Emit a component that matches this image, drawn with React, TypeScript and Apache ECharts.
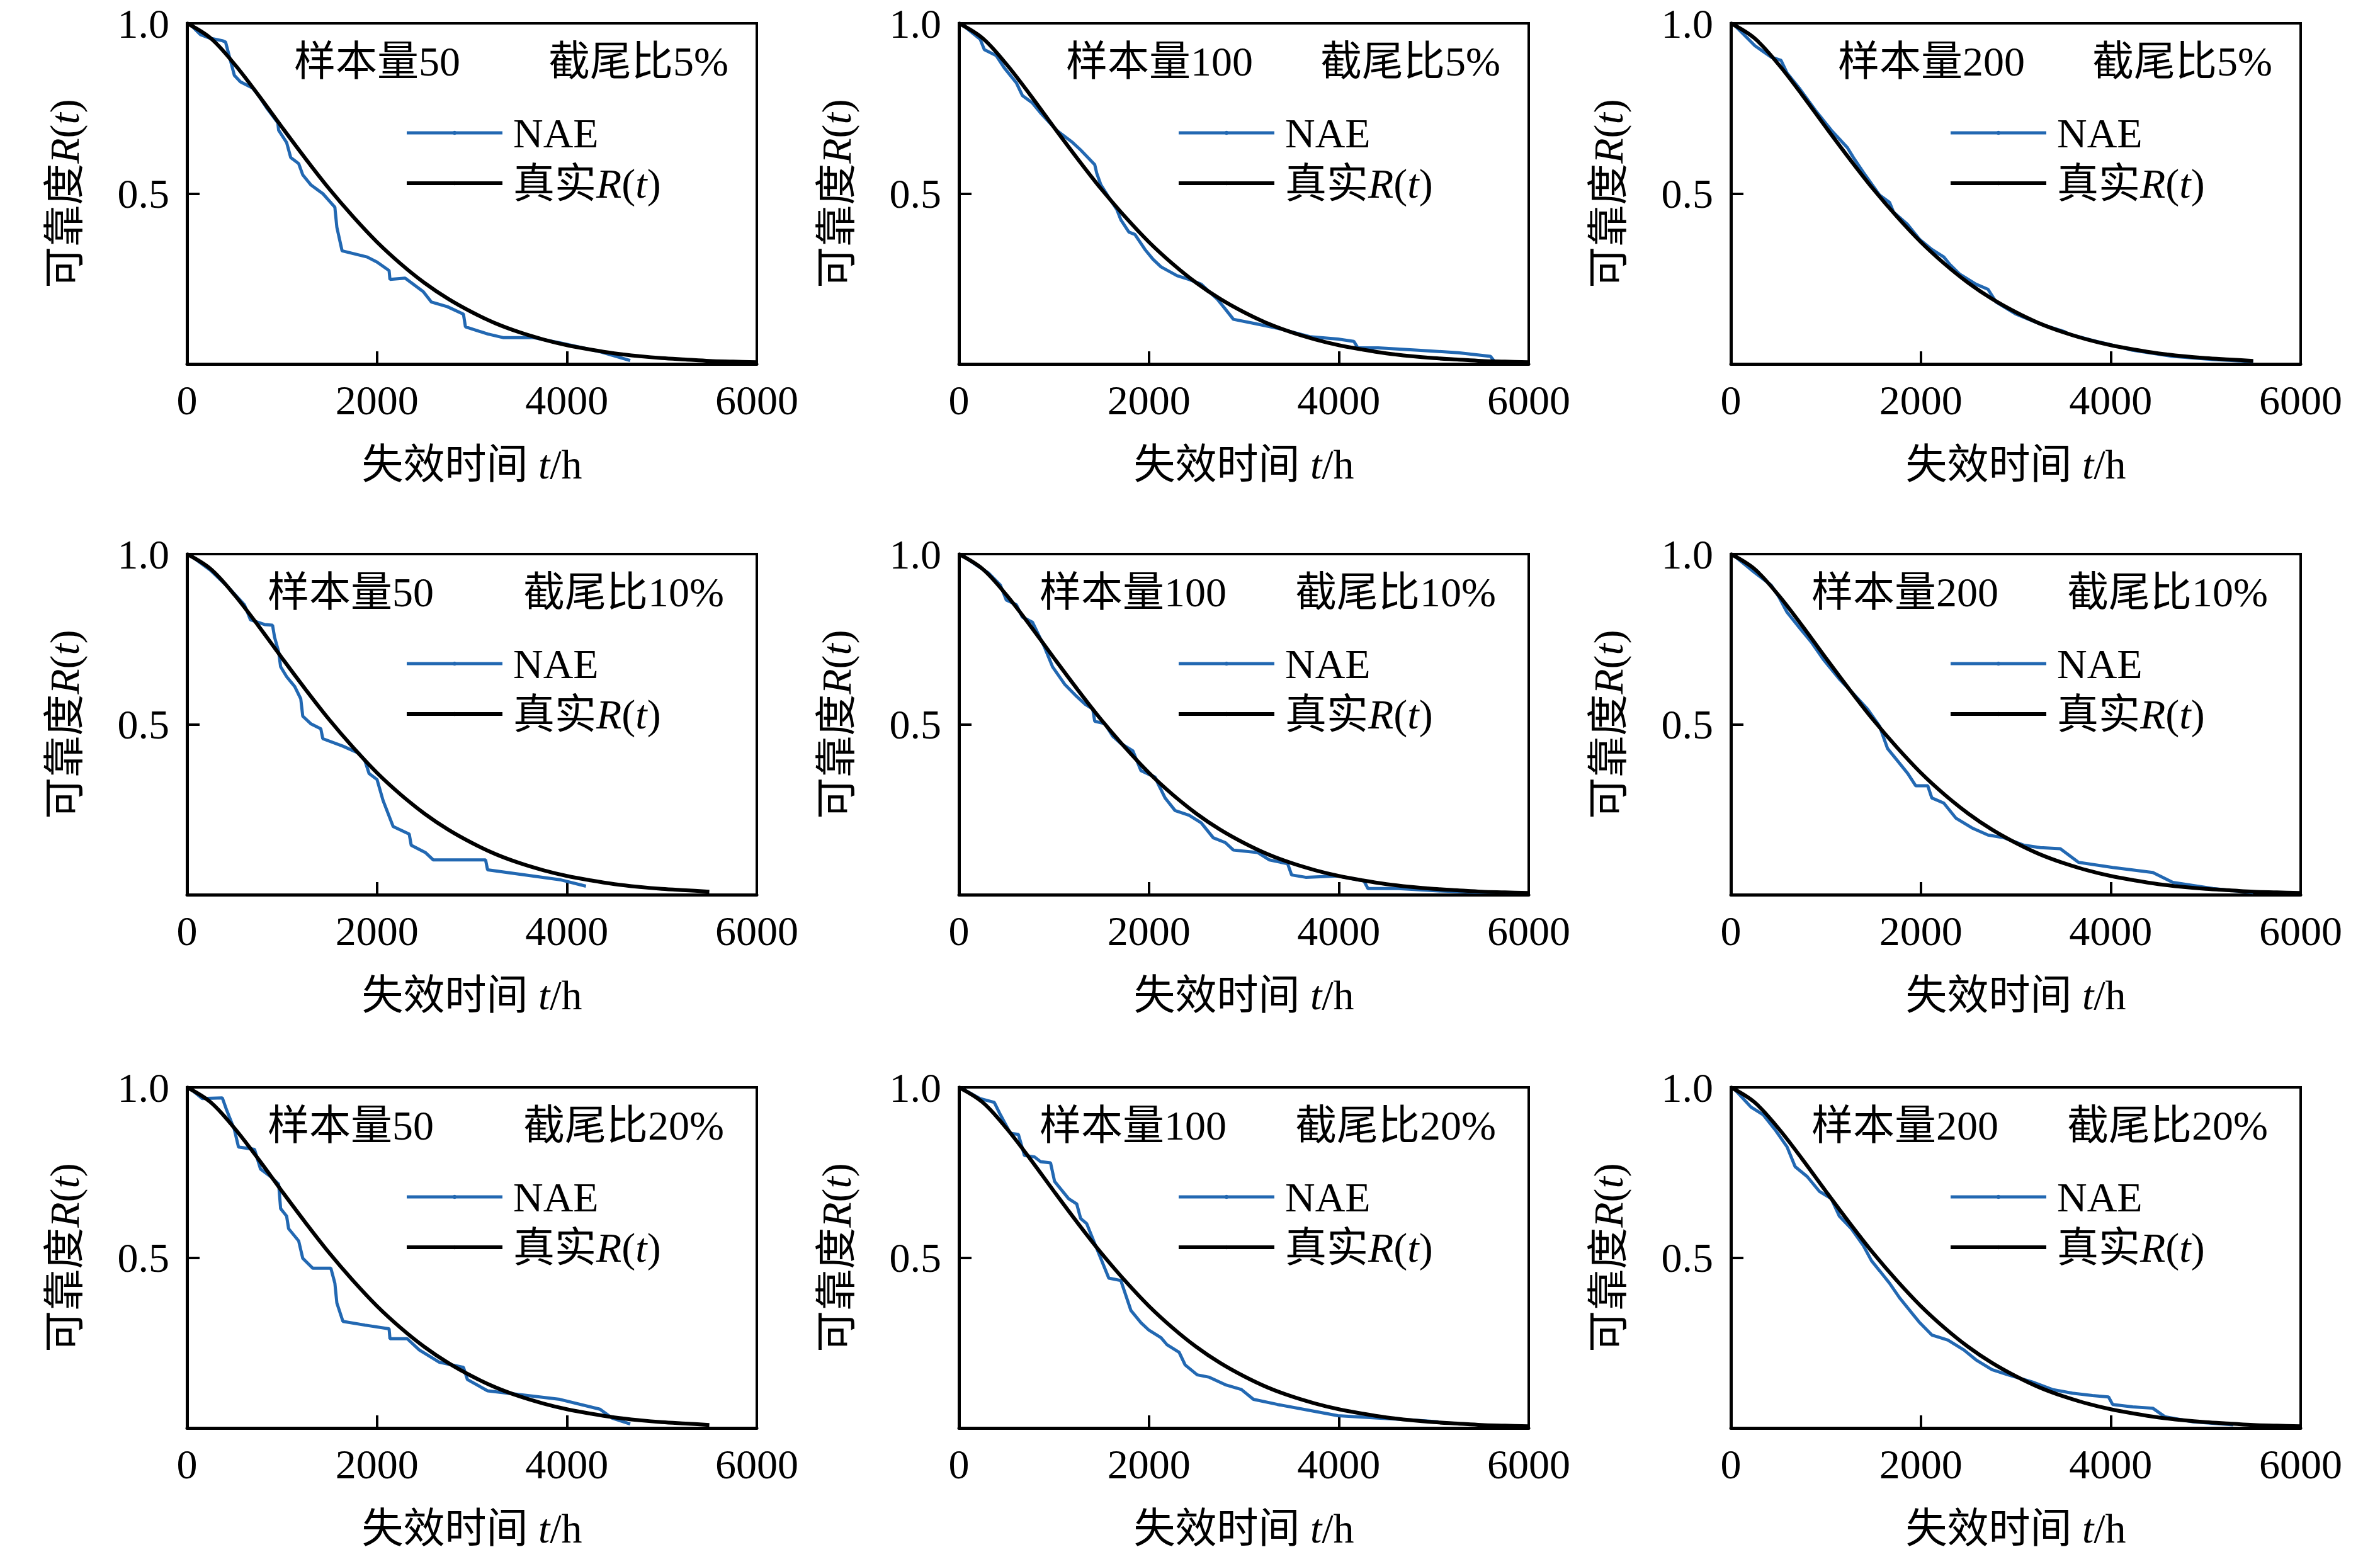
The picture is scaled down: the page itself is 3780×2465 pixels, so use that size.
import React, { useEffect, useRef } from 'react';
import * as echarts from 'echarts';

const W = 3780;
const H = 2465;
const FONT = '"Liberation Serif", "Times New Roman", "Noto Sans CJK SC", serif';

// ---- data ----
const sampleSizes = [50, 100, 200];
const censorRatios = ['5%', '10%', '20%'];
const xTicks = [0, 2000, 4000, 6000];
const yTicks = [0.5, 1.0];

// true reliability curve (t, R)
const trueR: [number, number][] = [
  [0, 1.0], [250, 0.956], [500, 0.88], [750, 0.79], [1000, 0.695], [1250, 0.602],
  [1500, 0.513], [1750, 0.432], [2000, 0.358], [2250, 0.294], [2500, 0.238],
  [2750, 0.191], [3000, 0.152], [3250, 0.119], [3500, 0.093], [3750, 0.072],
  [4000, 0.055], [4250, 0.042], [4500, 0.031], [4750, 0.023], [5000, 0.017],
  [5250, 0.013], [5500, 0.009], [5750, 0.007], [6000, 0.005],
];
const trueEnd = [6000, 6000, 5500, 5500, 6000, 6000, 5500, 6000, 6000];

// NAE estimates (row: censoring ratio, column: sample size)
const naeN50C5: [number, number][] = [
  [40, 0.995], [140, 0.967], [245, 0.956], [372, 0.949], [406, 0.945], [457, 0.891], [499, 0.847],
  [563, 0.828], [690, 0.81], [753, 0.788], [838, 0.752], [956, 0.708], [965, 0.686], [1049, 0.65],
  [1092, 0.606], [1176, 0.588], [1219, 0.555], [1303, 0.526], [1430, 0.5], [1557, 0.46], [1578, 0.401],
  [1633, 0.332], [1896, 0.314], [2001, 0.299], [2128, 0.274], [2137, 0.248], [2297, 0.252], [2488, 0.212],
  [2572, 0.182], [2742, 0.168], [2911, 0.146], [2932, 0.109], [3165, 0.088], [3334, 0.077], [3651, 0.077],
  [3926, 0.062], [4349, 0.036], [4667, 0.01],
];
const naeN100C5: [number, number][] = [
  [40, 0.995], [224, 0.953], [267, 0.923], [393, 0.905], [478, 0.869], [605, 0.825], [668, 0.788],
  [774, 0.766], [859, 0.737], [1028, 0.686], [1197, 0.65], [1282, 0.628], [1430, 0.585], [1451, 0.56],
  [1494, 0.526], [1578, 0.489], [1663, 0.453], [1705, 0.423], [1790, 0.387], [1853, 0.38], [1959, 0.336],
  [2044, 0.307], [2128, 0.285], [2297, 0.259], [2424, 0.248], [2551, 0.234], [2636, 0.212], [2721, 0.19],
  [2805, 0.161], [2890, 0.131], [3144, 0.117], [3397, 0.102], [3694, 0.08], [3990, 0.073], [4159, 0.066],
  [4201, 0.047], [4413, 0.047], [4836, 0.04], [5259, 0.033], [5598, 0.022], [5640, 0.007], [5936, 0.006],
];
const naeN200C5: [number, number][] = [
  [40, 0.994], [254, 0.934], [423, 0.901], [529, 0.891], [592, 0.854], [719, 0.81], [889, 0.745],
  [1058, 0.686], [1227, 0.635], [1290, 0.606], [1396, 0.562], [1565, 0.496], [1671, 0.474], [1714, 0.445],
  [1862, 0.409], [1989, 0.365], [2116, 0.336], [2242, 0.314], [2306, 0.292], [2412, 0.263], [2581, 0.234],
  [2708, 0.219], [2792, 0.182], [3004, 0.146], [3258, 0.117], [3512, 0.095], [3554, 0.088], [3808, 0.069],
  [3977, 0.058], [4231, 0.04], [4654, 0.022], [5077, 0.013], [5500, 0.007],
];
const naeN50C10: [number, number][] = [
  [40, 0.995], [245, 0.953], [436, 0.902], [605, 0.851], [647, 0.822], [668, 0.807], [817, 0.793],
  [901, 0.791], [922, 0.756], [965, 0.713], [986, 0.669], [1049, 0.64], [1134, 0.611], [1198, 0.575],
  [1219, 0.524], [1303, 0.502], [1409, 0.487], [1430, 0.458], [1642, 0.436], [1811, 0.415], [1874, 0.393],
  [1917, 0.356], [2001, 0.338], [2065, 0.276], [2171, 0.2], [2340, 0.178], [2361, 0.145], [2509, 0.124],
  [2594, 0.102], [3144, 0.102], [3165, 0.073], [3926, 0.044], [4201, 0.025],
];
const naeN100C10: [number, number][] = [
  [40, 0.995], [203, 0.964], [309, 0.945], [436, 0.909], [499, 0.865], [605, 0.851], [668, 0.815],
  [774, 0.8], [901, 0.727], [986, 0.669], [1113, 0.618], [1240, 0.582], [1325, 0.56], [1409, 0.545],
  [1430, 0.509], [1536, 0.502], [1620, 0.465], [1705, 0.444], [1832, 0.422], [1917, 0.364], [2065, 0.345],
  [2107, 0.32], [2171, 0.284], [2276, 0.247], [2424, 0.233], [2551, 0.211], [2678, 0.167], [2805, 0.153],
  [2890, 0.131], [3144, 0.124], [3270, 0.102], [3461, 0.091], [3503, 0.058], [3651, 0.051], [3990, 0.055],
  [4265, 0.04], [4307, 0.018], [4625, 0.018], [5048, 0.011], [5471, 0.007], [5936, 0.006],
];
const naeN200C10: [number, number][] = [
  [40, 0.994], [254, 0.945], [423, 0.909], [508, 0.873], [592, 0.829], [719, 0.785], [846, 0.742],
  [973, 0.691], [1142, 0.633], [1269, 0.596], [1439, 0.545], [1565, 0.495], [1650, 0.429], [1735, 0.4],
  [1862, 0.356], [1946, 0.32], [2073, 0.32], [2116, 0.284], [2242, 0.269], [2369, 0.225], [2539, 0.196],
  [2708, 0.175], [2877, 0.167], [3089, 0.145], [3258, 0.138], [3469, 0.135], [3660, 0.095], [4020, 0.08],
  [4443, 0.065], [4654, 0.036], [5077, 0.018], [5500, 0.006],
];
const naeN50C20: [number, number][] = [
  [40, 0.995], [161, 0.967], [372, 0.969], [415, 0.935], [499, 0.876], [542, 0.825], [711, 0.818],
  [774, 0.76], [880, 0.738], [965, 0.716], [986, 0.644], [1049, 0.622], [1070, 0.585], [1176, 0.549],
  [1219, 0.498], [1324, 0.469], [1515, 0.469], [1557, 0.425], [1578, 0.367], [1642, 0.313], [1874, 0.302],
  [2128, 0.291], [2137, 0.262], [2319, 0.262], [2446, 0.229], [2657, 0.193], [2911, 0.178], [2953, 0.142],
  [3165, 0.109], [3503, 0.098], [3926, 0.084], [4349, 0.055], [4476, 0.029], [4667, 0.012],
];
const naeN100C20: [number, number][] = [
  [40, 0.995], [224, 0.967], [372, 0.956], [436, 0.92], [542, 0.865], [626, 0.862], [690, 0.8],
  [795, 0.796], [859, 0.782], [965, 0.778], [1007, 0.724], [1155, 0.673], [1240, 0.658], [1282, 0.615],
  [1345, 0.6], [1451, 0.527], [1578, 0.44], [1705, 0.433], [1811, 0.345], [1917, 0.309], [2001, 0.287],
  [2128, 0.265], [2192, 0.244], [2319, 0.222], [2382, 0.185], [2509, 0.156], [2636, 0.149], [2805, 0.127],
  [2974, 0.113], [3101, 0.084], [3355, 0.069], [3778, 0.047], [3990, 0.036], [4413, 0.029], [4836, 0.022],
  [5048, 0.018],
];
const naeN200C20: [number, number][] = [
  [40, 0.994], [212, 0.942], [339, 0.92], [465, 0.876], [592, 0.825], [677, 0.767], [804, 0.738],
  [931, 0.695], [1058, 0.673], [1142, 0.622], [1269, 0.585], [1396, 0.535], [1481, 0.491], [1565, 0.462],
  [1671, 0.425], [1777, 0.382], [1904, 0.338], [1989, 0.309], [2116, 0.273], [2285, 0.258], [2454, 0.229],
  [2581, 0.2], [2750, 0.171], [2919, 0.156], [3173, 0.135], [3385, 0.113], [3596, 0.102], [3808, 0.095],
  [3977, 0.091], [4020, 0.069], [4231, 0.062], [4443, 0.058], [4570, 0.033], [4866, 0.018], [5289, 0.009],
];

const naeSeries = [
  naeN50C5, naeN100C5, naeN200C5,
  naeN50C10, naeN100C10, naeN200C10,
  naeN50C20, naeN100C20, naeN200C20,
];

// ---- layout ----
const colLeft = [297, 1523, 2749];
const rowTop = [37, 880, 1727];
const plotW = 905;
const plotH = 541;
const NAE_COLOR = '#2268b2';
const NAE_W = 5;
const TRUE_W = 6;

const richBase = { fontFamily: FONT, fontSize: 66, color: '#000', lineHeight: 70 };
const rich = {
  c: { ...richBase },
  i: { ...richBase, fontStyle: 'italic' as const },
  a: { ...richBase, padding: [0, 0, 0, 12] },
};

function buildOption() {
  const grid: any[] = [];
  const xAxis: any[] = [];
  const yAxis: any[] = [];
  const series: any[] = [];
  const legend: any[] = [];
  const graphic: any[] = [];

  for (let r = 0; r < 3; r++) {
    for (let c = 0; c < 3; c++) {
      const i = r * 3 + c;
      const left = colLeft[c];
      const top = rowTop[r];
      grid.push({
        left, top, width: plotW, height: plotH,
        show: true, borderColor: '#000', borderWidth: 4, backgroundColor: '#fff',
      });
      xAxis.push({
        type: 'value', gridIndex: i, min: xTicks[0], max: xTicks[xTicks.length - 1],
        interval: xTicks[1] - xTicks[0],
        axisLine: { show: true, onZero: false, lineStyle: { color: '#000', width: 5 } },
        axisTick: { show: true, inside: true, length: 20, lineStyle: { color: '#000', width: 4 } },
        splitLine: { show: false },
        axisLabel: {
          fontFamily: FONT, fontSize: 66, color: '#000', margin: 24,
          formatter: (v: number) => String(Math.round(v)),
        },
        name: '{c|失效时间 }{i|t}{c|/h}',
        nameLocation: 'middle', nameGap: 124,
        nameTextStyle: { rich },
      });
      yAxis.push({
        type: 'value', gridIndex: i, min: 0, max: yTicks[1], interval: yTicks[0],
        axisLine: { show: true, onZero: false, lineStyle: { color: '#000', width: 5 } },
        axisTick: { show: true, inside: true, length: 20, lineStyle: { color: '#000', width: 4 } },
        splitLine: { show: false },
        axisLabel: {
          fontFamily: FONT, fontSize: 66, color: '#000', margin: 28, lineHeight: 50,
          formatter: (v: number) => (v === 0 ? '' : v.toFixed(1)),
        },
        name: '{c|可靠度}{i|R}{c|(}{i|t}{c|)}',
        nameLocation: 'middle', nameRotate: 90, nameGap: 160,
        nameTextStyle: { rich },
      });
      series.push({
        type: 'line', name: 'NAE', xAxisIndex: i, yAxisIndex: i,
        data: naeSeries[i], showSymbol: false, symbol: 'circle', symbolSize: 6,
        lineStyle: { color: NAE_COLOR, width: NAE_W }, itemStyle: { color: NAE_COLOR },
        z: 2,
      });
      series.push({
        type: 'line', name: '真实R(t)', xAxisIndex: i, yAxisIndex: i,
        data: trueR.filter((p) => p[0] <= trueEnd[i]),
        showSymbol: false, symbol: 'circle', symbolSize: 4, smooth: 0.35,
        lineStyle: { color: '#000', width: TRUE_W }, itemStyle: { color: '#000' },
        z: 3,
      });
      legend.push({
        orient: 'vertical', left: left + 341, top: top + 136,
        itemWidth: 152, itemHeight: 8, itemGap: 14,
        data: [
          { name: 'NAE', lineStyle: { color: NAE_COLOR, width: NAE_W }, itemStyle: { color: NAE_COLOR } },
          { name: '真实R(t)', lineStyle: { color: '#000', width: TRUE_W }, itemStyle: { color: '#000' } },
        ],
        selectedMode: false,
        textStyle: { fontFamily: FONT, fontSize: 66, color: '#000', rich },
        formatter: (name: string) =>
          name === 'NAE' ? '{a|NAE}' : '{a|真实}{i|R}{c|(}{i|t}{c|)}',
      });
      const firstX = r === 0 ? 170 : 128;
      const secondX = r === 0 ? 574 : 534;
      graphic.push({
        type: 'text', x: left + firstX, y: top + 60, z: 10,
        style: {
          text: '样本量' + sampleSizes[c], fontFamily: FONT, fontSize: 66,
          fill: '#000', verticalAlign: 'middle', align: 'left',
        },
      });
      graphic.push({
        type: 'text', x: left + secondX, y: top + 60, z: 10,
        style: {
          text: '截尾比' + censorRatios[r], fontFamily: FONT, fontSize: 66,
          fill: '#000', verticalAlign: 'middle', align: 'left',
        },
      });
    }
  }

  return {
    animation: false,
    backgroundColor: '#fff',
    grid, xAxis, yAxis, series, legend, graphic,
  };
}

export default function App() {
  const ref = useRef<HTMLDivElement>(null);
  useEffect(() => {
    if (!ref.current) return;
    const chart = echarts.init(ref.current, undefined, { renderer: 'svg', width: W, height: H });
    chart.setOption(buildOption() as any);
    return () => chart.dispose();
  }, []);
  return (
    <div
      ref={ref}
      style={{ position: 'absolute', left: 0, top: 0, width: W, height: H, background: '#fff' }}
    />
  );
}
